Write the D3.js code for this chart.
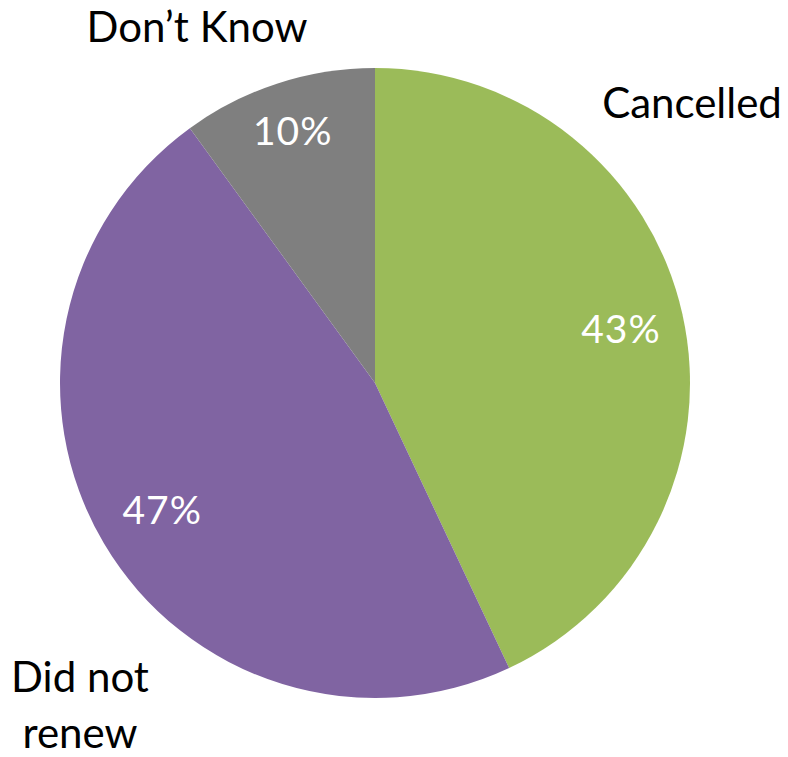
<!DOCTYPE html>
<html>
<head>
<meta charset="utf-8">
<script src="https://cdn.jsdelivr.net/npm/d3@7/dist/d3.min.js"></script>
<style>
  html, body { margin: 0; padding: 0; background: #fff; }
  svg { display: block; }
  text { font-family: Lato, "Open Sans", "Liberation Sans", sans-serif; }
</style>
</head>
<body>
<svg id="chart" width="788" height="757"></svg>
<script>
// Reasons for subscription ending (share of respondents)
const categories = ["Cancelled", "Did not renew", "Don\u2019t Know"];
const values = [43, 47, 10];
const colors = ["#9BBB59", "#8064A2", "#7F7F7F"];

// Radial position of each percentage label, as a fraction of the radius
const pctRadius = [0.80, 0.785, 0.845];

// Category label placement outside the pie (lines, anchor point)
const outerLabels = [
  { lines: ["Cancelled"], x: 692, y: 118 },
  { lines: ["Did not", "renew"], x: 80, y: 692 },
  { lines: ["Don\u2019t Know"], x: 197, y: 42 }
];

const cx = 375, cy = 383, radius = 315;

const svg = d3.select("#chart");
const g = svg.append("g").attr("transform", `translate(${cx},${cy})`);

const pie = d3.pie().sort(null).value(d => d.value);
const data = categories.map((c, i) => ({ name: c, value: values[i], color: colors[i] }));
const arcs = pie(data);

const arc = d3.arc().innerRadius(0).outerRadius(radius);
const labelPos = (d, i) => {
  const r = radius * pctRadius[i];
  return d3.arc().innerRadius(r).outerRadius(r).centroid(d);
};

g.selectAll("path.slice")
  .data(arcs)
  .join("path")
  .attr("class", "slice")
  .attr("d", arc)
  .attr("fill", d => d.data.color);

g.selectAll("text.pct")
  .data(arcs)
  .join("text")
  .attr("class", "pct")
  .attr("transform", (d, i) => `translate(${labelPos(d, i)})`)
  .attr("text-anchor", "middle")
  .attr("dominant-baseline", "central")
  .attr("fill", "#fff")
  .attr("font-size", 39)
  .attr("letter-spacing", 1)
  .text(d => d.data.value + "%");

const lbl = svg.selectAll("text.cat")
  .data(outerLabels)
  .join("text")
  .attr("class", "cat")
  .attr("text-anchor", "middle")
  .attr("fill", "#000")
  .attr("font-size", 42);

lbl.selectAll("tspan")
  .data(d => d.lines.map((t, i) => ({ t, i, x: d.x, y: d.y })))
  .join("tspan")
  .attr("x", d => d.x)
  .attr("y", d => d.y + d.i * 56)
  .text(d => d.t);
</script>
</body>
</html>
